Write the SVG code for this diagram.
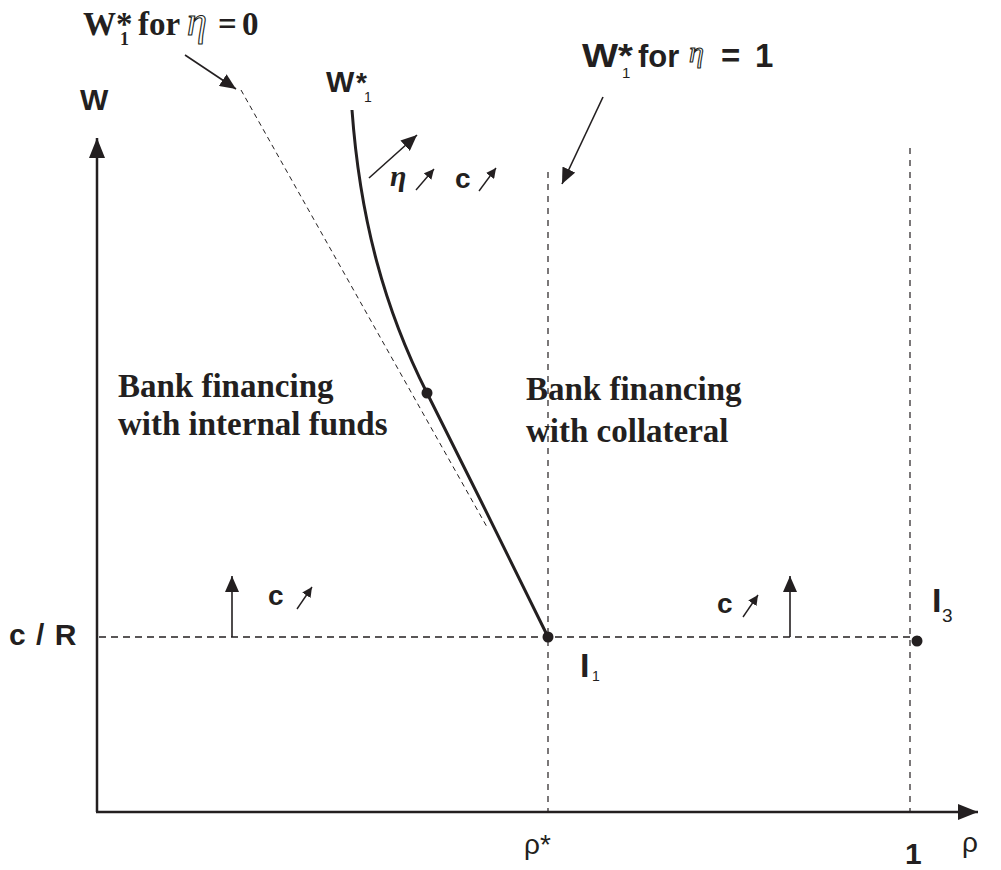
<svg xmlns="http://www.w3.org/2000/svg" width="1001" height="870" viewBox="0 0 1001 870">
<style>
.ax{stroke:#231f20;stroke-width:2.5;fill:none}
.dh{stroke:#231f20;stroke-width:1.6;fill:none;stroke-dasharray:7 5}
.dv{stroke:#231f20;stroke-width:1.2;fill:none;stroke-dasharray:6 6}
.dt{stroke:#231f20;stroke-width:1;fill:none;stroke-dasharray:5 4}
.cv{stroke:#231f20;stroke-width:3;fill:none}
.ar{stroke:#231f20;stroke-width:1.6;fill:none}
.sa{stroke:#231f20;stroke-width:1.4;fill:none}
.dot{fill:#231f20}
.sb{font-family:"Liberation Sans",Arial,sans-serif;font-weight:bold;fill:#231f20}
.sr{font-family:"Liberation Sans",Arial,sans-serif;font-weight:normal;fill:#231f20}
.tb{font-family:"Liberation Serif","Times New Roman",serif;font-weight:bold;fill:#231f20}
.eo{font-family:"Liberation Serif","Times New Roman",serif;font-style:italic;fill:#fff;stroke:#231f20;stroke-width:1.1}
</style>
<defs>
<marker id="big" markerUnits="userSpaceOnUse" markerWidth="18" markerHeight="14" refX="16" refY="7" orient="auto"><path d="M0,0 L16,7 L0,14 Z" fill="#231f20"/></marker>
<marker id="sm" markerUnits="userSpaceOnUse" markerWidth="12" markerHeight="10" refX="10" refY="5" orient="auto"><path d="M0,0 L10,5 L0,10 Z" fill="#231f20"/></marker>
<marker id="ax" markerUnits="userSpaceOnUse" markerWidth="22" markerHeight="16" refX="20" refY="8" orient="auto"><path d="M0,0 L20,8 L0,16 Z" fill="#231f20"/></marker>
</defs>
<g id="connectors">
<line class="ax" x1="97" y1="812" x2="97" y2="138" marker-end="url(#ax)"/>
<line class="ax" x1="96" y1="812" x2="978" y2="812" marker-end="url(#ax)"/>
<line class="dh" x1="99" y1="637" x2="920" y2="637"/>
<line class="dv" x1="548" y1="172" x2="548" y2="812"/>
<line class="dv" x1="910" y1="148" x2="910" y2="812"/>
<line class="dt" x1="241" y1="90" x2="487" y2="527"/>
<path class="cv" d="M352,110 C360,220 385,310 427,393 C467,472 510,560 548,637"/>
<line class="ar" x1="185" y1="55" x2="236" y2="89" marker-end="url(#big)"/>
<line class="ar" x1="603" y1="97" x2="562" y2="184" marker-end="url(#big)"/>
<line class="ar" x1="369" y1="178" x2="417" y2="135" stroke-width="2" marker-end="url(#big)"/>
<line class="sa" x1="416" y1="190" x2="434" y2="169" marker-end="url(#sm)"/>
<line class="sa" x1="479" y1="191" x2="496" y2="168" marker-end="url(#sm)"/>
<line class="sa" x1="297" y1="609" x2="312" y2="587" marker-end="url(#sm)"/>
<line class="sa" x1="743" y1="617" x2="758" y2="595" marker-end="url(#sm)"/>
<line class="ar" x1="232" y1="637" x2="232" y2="576" marker-end="url(#big)"/>
<line class="ar" x1="790" y1="637" x2="790" y2="576" marker-end="url(#big)"/>
</g>
<g id="I1"><circle class="dot" cx="548" cy="637" r="5.5"/>
<text class="sb" x="580" y="677" font-size="34">I</text><text class="sr" x="592" y="681" font-size="14">1</text></g>
<g id="I3"><circle class="dot" cx="917" cy="641" r="5.5"/>
<text class="sb" x="932" y="612" font-size="34">I</text><text class="sr" x="942" y="622" font-size="19">3</text></g>
<g id="curvepoint"><circle class="dot" cx="427" cy="393" r="5.5"/></g>
<g id="label-w0">
<text class="tb" x="83" y="35" font-size="33">W*</text>
<text class="tb" x="120" y="45" font-size="18">1</text>
<text class="tb" x="138" y="35" font-size="33">for</text>
<text class="eo" x="187" y="35" font-size="40">η</text>
<text class="tb" x="218" y="35" font-size="33">=</text>
<text class="tb" x="242" y="35" font-size="33">0</text>
</g>
<g id="label-w1">
<text class="sb" x="582" y="67" font-size="33" textLength="51" lengthAdjust="spacingAndGlyphs">W*</text>
<text class="sr" x="622" y="78" font-size="15">1</text>
<text class="sb" x="638" y="67" font-size="31">for</text>
<text class="eo" x="689" y="62" font-size="30">η</text>
<text class="sb" x="721" y="67" font-size="33">=</text>
<text class="sb" x="755" y="67" font-size="33">1</text>
</g>
<g id="label-wstar">
<text class="sb" x="326" y="92" font-size="30">W</text>
<text class="sb" x="356" y="92" font-size="28">*</text>
<text class="sr" x="364" y="102" font-size="14">1</text>
</g>
<g id="eta-c">
<text class="tb" x="390" y="186" font-size="30" font-style="italic">η</text>
<text class="sb" x="455" y="188" font-size="28">c</text>
</g>
<g id="axis-labels">
<text class="sb" x="80" y="110" font-size="30">W</text>
<text class="sb" x="9" y="645" font-size="30" word-spacing="2">c / R</text>
<text class="sr" x="524" y="854" font-size="28">ρ*</text>
<text class="sb" x="905" y="864" font-size="30">1</text>
<text class="sr" x="962" y="852" font-size="28">ρ</text>
</g>
<g id="c-left"><text class="sb" x="268" y="605" font-size="28">c</text></g>
<g id="c-right"><text class="sb" x="717" y="613" font-size="28">c</text></g>
<g id="region-internal">
<text class="tb" x="118" y="397" font-size="33">Bank financing</text>
<text class="tb" x="118" y="435" font-size="33">with internal funds</text>
</g>
<g id="region-collateral">
<text class="tb" x="526" y="400" font-size="33">Bank financing</text>
<text class="tb" x="526" y="442" font-size="33">with collateral</text>
</g>
</svg>
